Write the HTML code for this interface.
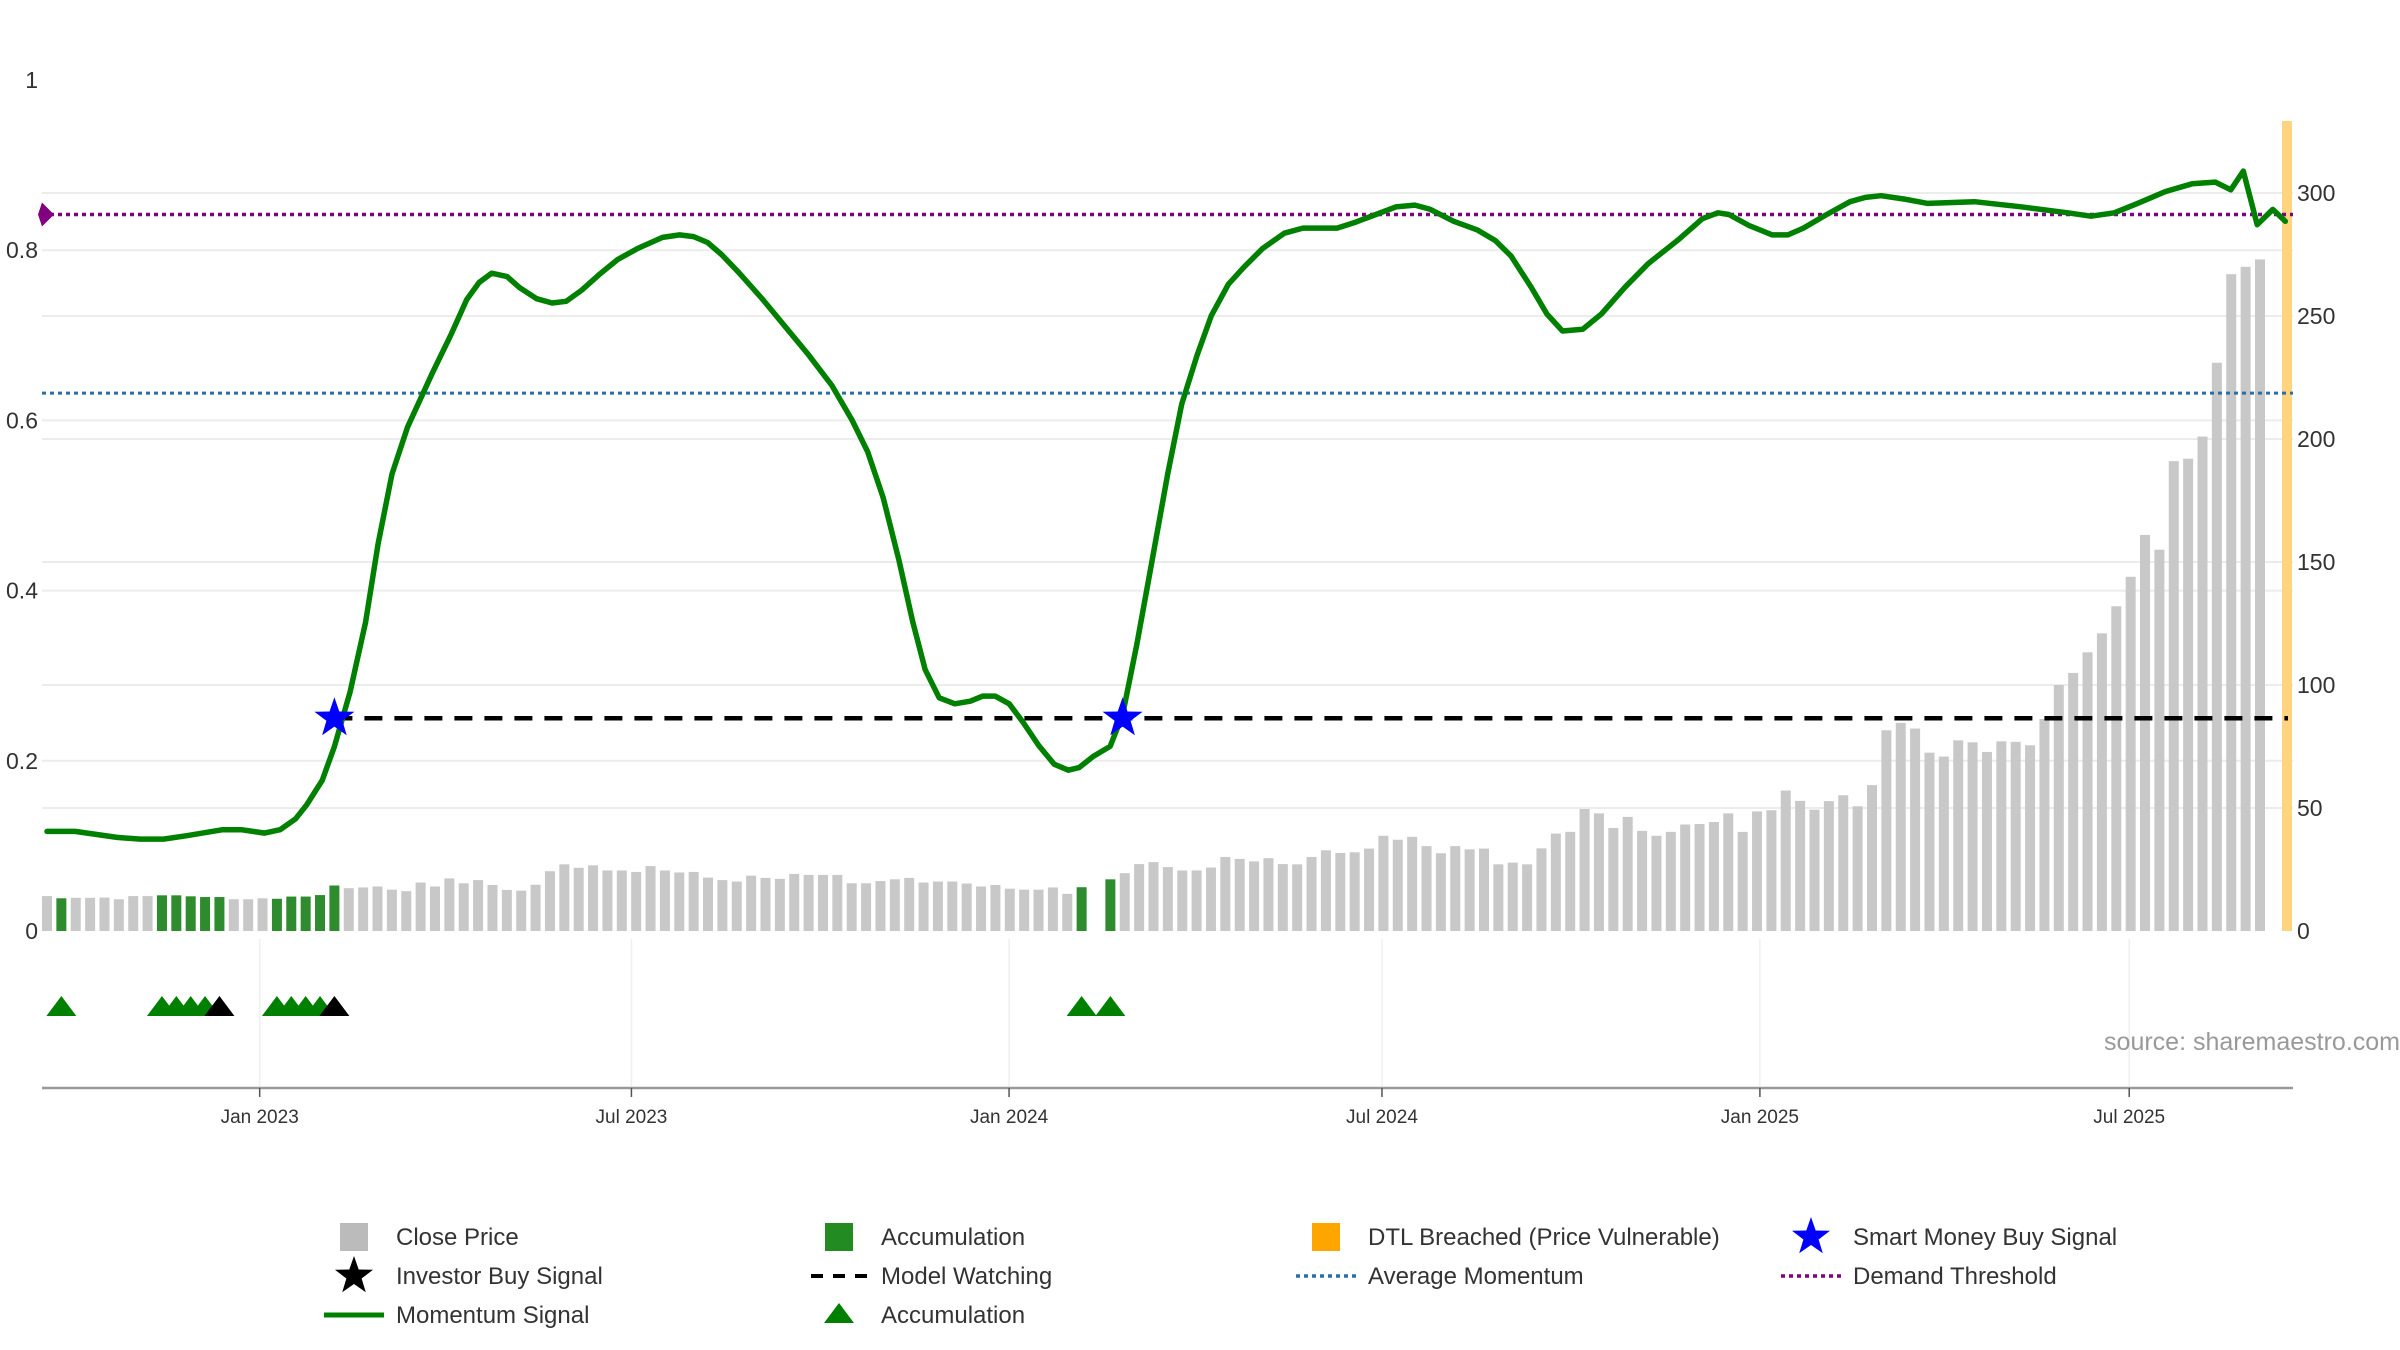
<!DOCTYPE html>
<html><head><meta charset="utf-8"><style>
body{margin:0;background:#fff;}
svg{display:block;font-family:"Liberation Sans","DejaVu Sans",sans-serif;}
</style></head><body>
<svg id="chart" width="2400" height="1350" viewBox="0 0 2400 1350"></svg>
<script>
const barValues=[14.2,13.3,13.5,13.5,13.6,12.9,14.2,14.2,14.5,14.5,14.1,13.8,13.8,12.9,12.9,13.3,13.1,14,14,14.6,18.5,
17.4,17.7,18.1,16.8,16.2,19.7,18.1,21.4,19.4,20.7,18.7,16.7,16.4,18.8,24.3,27.1,25.7,26.7,24.6,24.6,24,26.4,24.6,23.8,24,21.7,20.7,20.1,22.5,21.6,21.2,23.2,22.8,22.8,22.8,19.4,19.4,20.3,21,21.6,19.7,20.1,20.1,19.3,18.1,18.7,17.2,16.8,16.8,17.7,15.1,17.8,
0,21,23.5,27.2,28,26,24.6,24.6,25.8,
30.1,29.3,28.3,29.6,27.2,27.1,30.1,32.8,31.7,32,33.5,38.7,37.1,38.3,34.5,31.6,34.5,33.2,33.5,27.1,27.8,27.1,33.6,39.6,40.3,49.6,47.8,41.9,46.4,40.7,38.7,40.3,43.3,43.5,44.3,47.8,40.3,48.6,49.1,57.1,52.9,49.3,52.8,55.2,50.7,59.3,81.6,84.6,82.3,72.5,70.9,77.5,76.7,72.8,77.1,76.9,75.5,86.2,100,104.9,113.3,
121,132,144,161,155,191,192,201,231,267,270,273];
const accumWeeks=[1,8,9,10,11,12,16,17,18,19,20,72,74];
const triGreenWeeks=[1,8,9,10,11,16,17,18,19,72,74];
const triBlackWeeks=[12,20];
const starWeeks=[20,74.85];
const starValue=0.25;
const watchStartWeek=20;
const avgMomentum=0.632;
const demandThreshold=0.842;
const momWeeks=[0,1.95,4.87,6.49,8.11,9.73,12.22,13.52,15.14,16.22,17.31,18.06,19.15,20.01,21.09,22.17,23.04,24.01,25.09,26.83,28.12,29.21,30.07,30.94,32.02,32.88,34.07,35.15,36.13,37.21,38.4,39.7,41.1,42.83,44.02,45,45.97,46.94,48.13,49.76,51.38,53,54.62,56.03,57.11,58.19,59.28,60.25,61.11,62.09,63.17,64.25,65.12,65.98,66.96,67.93,69.01,70.09,71.07,71.82,72.8,73.99,74.85,75.83,76.91,77.99,78.96,80.04,81.02,82.21,83.29,84.59,86.1,87.4,89.78,91.08,92.48,93.89,95.19,96.27,97.89,99.51,100.81,101.89,103.3,104.38,105.46,106.87,108.17,109.79,111.41,113.58,115.2,116.28,117.04,118.44,120.06,121.15,122.23,123.85,125.47,126.55,127.64,129.26,130.88,134.13,137.37,140.62,142.24,143.86,145.48,147.43,149.27,150.89,151.97,152.84,153.81,154.89,155.76];
const momValues=[0.117,0.117,0.110,0.108,0.108,0.112,0.119,0.119,0.115,0.119,0.132,0.148,0.177,0.217,0.281,0.363,0.455,0.537,0.592,0.656,0.701,0.742,0.762,0.773,0.769,0.756,0.743,0.738,0.740,0.753,0.771,0.789,0.802,0.815,0.818,0.816,0.809,0.795,0.774,0.743,0.710,0.677,0.641,0.600,0.563,0.509,0.436,0.363,0.307,0.274,0.267,0.270,0.276,0.276,0.267,0.245,0.218,0.196,0.189,0.192,0.205,0.217,0.254,0.336,0.436,0.537,0.619,0.677,0.723,0.760,0.780,0.802,0.820,0.826,0.826,0.833,0.842,0.851,0.853,0.848,0.834,0.824,0.811,0.793,0.756,0.725,0.705,0.707,0.725,0.756,0.784,0.813,0.837,0.844,0.842,0.829,0.818,0.818,0.826,0.842,0.857,0.862,0.864,0.860,0.855,0.857,0.851,0.844,0.840,0.844,0.855,0.869,0.878,0.880,0.871,0.893,0.830,0.848,0.834];
const leftTicks=[0,0.2,0.4,0.6,0.8,1];
const leftTickLabels=["0","0.2","0.4","0.6","0.8","1"];
const rightTicks=[0,50,100,150,200,250,300];
const xTickWeeks=[14.8,40.67,66.95,92.9,119.2,144.9];
const xTickLabels=["Jan 2023","Jul 2023","Jan 2024","Jul 2024","Jan 2025","Jul 2025"];

const NS="http://www.w3.org/2000/svg";
const svg=document.getElementById('chart');
const X0=47,XW=14.37,PL=42,PR=2293,BASE=931,TOP=121,AXY=1088;
function xw(w){return X0+w*XW;}
function yL(v){return BASE-v*851;}
function yR(v){return BASE-v*2.46;}
function mk(tag,attrs,parent){const e=document.createElementNS(NS,tag);for(const k in attrs)e.setAttribute(k,attrs[k]);(parent||svg).appendChild(e);return e;}
function star(cx,cy,r){let p=[];for(let i=0;i<10;i++){const a=-Math.PI/2+i*Math.PI/5;const rr=i%2?r*0.4:r;p.push((cx+rr*Math.cos(a)).toFixed(1)+","+(cy+rr*Math.sin(a)).toFixed(1));}return p.join(" ");}

leftTicks.forEach((t,i)=>{if(t>0&&t<1){const g=mk('line',{x1:PL,x2:PR,y1:yL(t),y2:yL(t),stroke:'#ececec','stroke-width':2});

}});
rightTicks.forEach(t=>{if(t>0){const g=mk('line',{x1:PL,x2:PR,y1:yR(t),y2:yR(t),stroke:'#ececec','stroke-width':2});

}});
xTickWeeks.forEach(w=>{const g=mk('line',{x1:xw(w),x2:xw(w),y1:BASE+8,y2:AXY,stroke:'#eef0f3','stroke-width':1.5});

});

const ob=mk('rect',{x:2282,y:TOP,width:10,height:BASE-TOP,fill:'#ffd47f'});



barValues.forEach((v,i)=>{if(!v)return;const acc=accumWeeks.includes(i);
const b=mk('rect',{x:xw(i)-5,y:yR(v),width:10,height:BASE-yR(v),fill:acc?'#2e8b2e':'#c8c8c8'});

});

const pl=mk('line',{x1:PL,x2:PR,y1:yL(demandThreshold),y2:yL(demandThreshold),stroke:'#800080','stroke-width':3.5,'stroke-dasharray':'4 4'});


const bl=mk('line',{x1:PL,x2:PR,y1:yL(avgMomentum),y2:yL(avgMomentum),stroke:'#2a6fa8','stroke-width':3,'stroke-dasharray':'4 4'});


const dl=mk('line',{x1:xw(watchStartWeek),x2:PR-5,y1:yL(starValue),y2:yL(starValue),stroke:'#000','stroke-width':4.5,'stroke-dasharray':'18 12'});


const dm=mk('polygon',{points:`${PL},${yL(demandThreshold)-12} ${PL+12},${yL(demandThreshold)} ${PL},${yL(demandThreshold)+12} ${PL-4},${yL(demandThreshold)}`,fill:'#800080'});



const pts=momWeeks.map((w,i)=>xw(w).toFixed(1)+","+yL(momValues[i]).toFixed(1)).join(" ");
const ml=mk('polyline',{points:pts,fill:'none',stroke:'#008000','stroke-width':5.5,'stroke-linejoin':'round','stroke-linecap':'round'});



starWeeks.forEach(w=>{const s=mk('polygon',{points:star(xw(w),yL(starValue),21),fill:'#0000ff'});

});

const TY=1007;
function tri(w,col,name){const x=xw(w);const t=mk('polygon',{points:`${x-15},${TY+9} ${x},${TY-11} ${x+15},${TY+9}`,fill:col});

}
triGreenWeeks.forEach(w=>tri(w,'#008000','accumulation-triangle'));
triBlackWeeks.forEach(w=>tri(w,'#000','investor-buy-triangle'));

const ax=mk('line',{x1:PL,x2:PR,y1:AXY,y2:AXY,stroke:'#999','stroke-width':2.5});


xTickWeeks.forEach((w,i)=>{const tk=mk('line',{x1:xw(w),x2:xw(w),y1:AXY,y2:AXY+9,stroke:'#555','stroke-width':1.5});


const t=mk('text',{x:xw(w),y:1123,'text-anchor':'middle','font-size':19,fill:'#333'});t.textContent=xTickLabels[i];

});
leftTicks.forEach((v,i)=>{const t=mk('text',{x:38,y:yL(v)+8,'text-anchor':'end','font-size':23,fill:'#333'});t.textContent=leftTickLabels[i];

});
rightTicks.forEach(v=>{const t=mk('text',{x:2297,y:yR(v)+8,'font-size':23,fill:'#333'});t.textContent=String(v);

});
const src=mk('text',{x:2400,y:1050,'text-anchor':'end','font-size':25,fill:'#999'});src.textContent='source: sharemaestro.com';



const legend=mk('g',{});


const entries=[
 [354,1237,'sq','#bbbbbb','Close Price'],[839,1237,'sq','#228b22','Accumulation'],[1326,1237,'sq','#ffa500','DTL Breached (Price Vulnerable)'],[1811,1237,'star','#0000ff','Smart Money Buy Signal'],
 [354,1276,'star','#000','Investor Buy Signal'],[839,1276,'dash','#000','Model Watching'],[1326,1276,'dot','#2a6fa8','Average Momentum'],[1811,1276,'dot','#800080','Demand Threshold'],
 [354,1315,'line','#008000','Momentum Signal'],[839,1315,'tri','#008000','Accumulation']];
entries.forEach(e=>{const [x,y,kind,col,label]=e;const g=mk('g',{},legend);


if(kind==='sq')mk('rect',{x:x-14,y:y-14,width:28,height:28,fill:col},g);
if(kind==='star')mk('polygon',{points:star(x,y,20),fill:col},g);
if(kind==='dash'){mk('line',{x1:x-30,x2:x+30,y1:y,y2:y,stroke:col,'stroke-width':4,'stroke-dasharray':'12 10','stroke-dashoffset':-2},g);}
if(kind==='dot')mk('line',{x1:x-30,x2:x+30,y1:y,y2:y,stroke:col,'stroke-width':3.5,'stroke-dasharray':'4 4'},g);
if(kind==='line')mk('line',{x1:x-30,x2:x+30,y1:y,y2:y,stroke:col,'stroke-width':5},g);
if(kind==='tri')mk('polygon',{points:`${x-15},${y+8} ${x},${y-12} ${x+15},${y+8}`,fill:col},g);
const t=mk('text',{x:x+42,y:y+8,'font-size':24,fill:'#333'},g);t.textContent=label;

});
</script>
</body></html>
